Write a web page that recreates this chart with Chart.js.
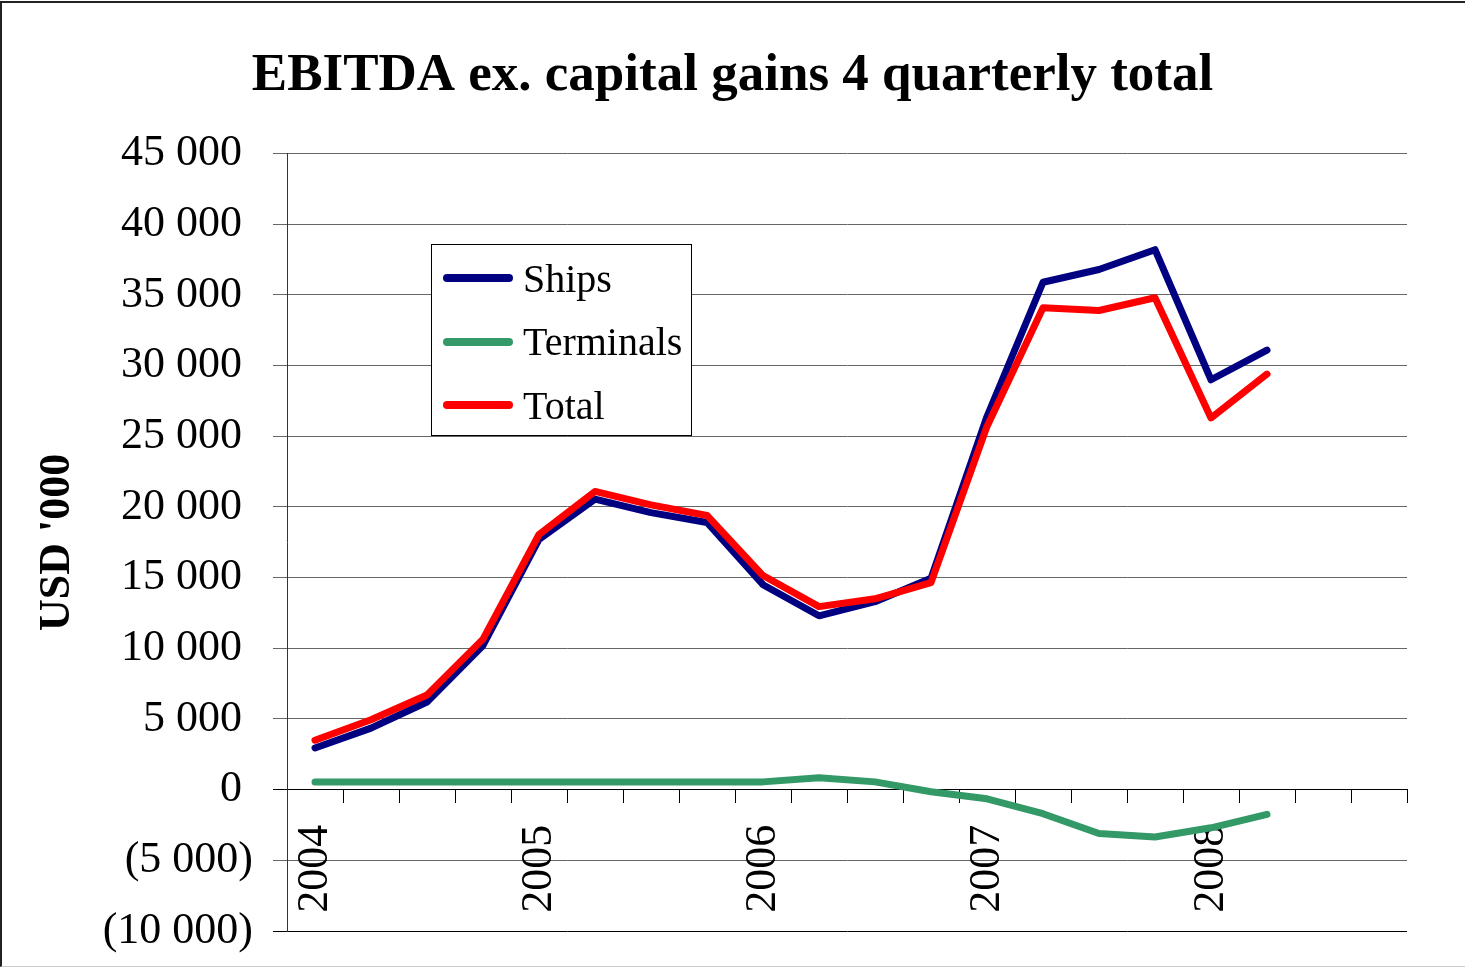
<!DOCTYPE html>
<html>
<head>
<meta charset="utf-8">
<script src="https://cdn.jsdelivr.net/npm/chart.js@4.4.1/dist/chart.umd.min.js"></script>
<style>
  html, body { margin: 0; padding: 0; background: #fff; }
  #wrap { position: relative; width: 1465px; height: 970px; overflow: hidden; }
  #chart { position: absolute; left: 0; top: 0; }
  #frame {
    position: absolute; left: 0; top: 1px; width: 1465px; height: 966px;
    border-left: 2px solid #222; border-top: 2px solid #222; border-bottom: 1px solid #ccc;
    pointer-events: none; box-sizing: border-box;
  }
  #legend {
    position: absolute; left: 431px; top: 244px; width: 261px; height: 192px;
    box-sizing: border-box; border: 1px solid #000; background: #fff;
    font-family: "Liberation Serif", "Times New Roman", serif; font-size: 40px; color: #000;
  }
  .row { position: absolute; left: 0; height: 64px; display: flex; align-items: center; }
  .swatch { margin-left: 11px; width: 70px; height: 8px; border-radius: 4px; }
  .label { margin-left: 10px; white-space: nowrap; }
</style>
</head>
<body>
<div id="wrap">
  <canvas id="chart" width="1465" height="970"></canvas>
  <div id="legend"></div>
  <div id="frame"></div>
</div>
<script>
// quarters, a year label every 4th slot
const quarterLabels = ['2004', '', '', '', '2005', '', '', '', '2006', '', '', '',
                       '2007', '', '', '', '2008', '', '', ''];

// USD '000, 4 quarter rolling totals
const ships = [2950, 4350, 6200, 10200, 17700, 20550, 19600, 18900, 14500, 12300,
               13300, 14950, 26400, 35900, 36800, 38200, 29000, 31100];
const terminals = [550, 550, 550, 550, 550, 550, 550, 550, 550, 850,
                   550, -150, -650, -1700, -3100, -3350, -2700, -1750];
const total = [3500, 4950, 6700, 10650, 18050, 21100, 20150, 19400, 15150, 12950,
               13500, 14650, 25700, 34100, 33900, 34800, 26300, 29400];

const SERIF = '"Liberation Serif", "Times New Roman", serif';
Chart.defaults.font.family = SERIF;
Chart.defaults.color = '#000';

function fmtThousands(v) {
    return String(v).replace(/\B(?=(\d{3})+(?!\d))/g, ' ');
}

function lineSet(label, data, color, order) {
    return {
        label: label,
        data: data,
        borderColor: color,
        backgroundColor: color,
        borderWidth: 7,
        pointRadius: 0,
        tension: 0,
        borderCapStyle: 'round',
        borderJoinStyle: 'round',
        order: order
    };
}

const ctx = document.getElementById('chart');
const chart = new Chart(ctx, {
    type: 'line',
    data: {
        labels: quarterLabels,
        datasets: [
            lineSet('Ships', ships, '#000080', 1),
            lineSet('Terminals', terminals, '#339966', 2),
            lineSet('Total', total, '#ff0000', 0)
        ]
    },
    options: {
        responsive: false,
        animation: false,
        layout: { padding: { left: 0, top: 0, right: 0, bottom: 39 } },
        plugins: {
            legend: { display: false },
            tooltip: { enabled: false },
            title: {
                display: true,
                text: 'EBITDA ex. capital gains 4 quarterly total',
                font: { family: SERIF, size: 53, weight: 'bold', lineHeight: 1.2 },
                color: '#000',
                padding: { top: 45, bottom: 45 }
            }
        },
        scales: {
            x: {
                type: 'category',
                position: { y: 0 },
                offset: true,
                grid: {
                    offset: true,
                    drawOnChartArea: false,
                    drawTicks: true,
                    tickLength: 13,
                    color: '#000'
                },
                border: { display: true, color: '#000', width: 1 },
                ticks: {
                    autoSkip: false,
                    minRotation: 90,
                    maxRotation: 90,
                    padding: 22,
                    font: { family: SERIF, size: 44 },
                    color: '#000'
                }
            },
            y: {
                min: -10000,
                max: 45000,
                afterFit: s => {
                    s.width = 287;
                    s.paddingTop = 0;
                    s.paddingBottom = 0;
                },
                ticks: {
                    stepSize: 5000,
                    padding: 20,
                    font: { family: SERIF, size: 44 },
                    color: '#000',
                    callback: v => v < 0 ? '(' + fmtThousands(-v) + ')' : fmtThousands(v) + ' '
                },
                grid: {
                    drawTicks: true,
                    tickLength: 14,
                    color: c => (c.tick && (c.tick.value === 0 || c.tick.value === -10000)) ? '#000' : '#666',
                    lineWidth: 1
                },
                border: { display: true, color: '#333', width: 1 },
                title: {
                    display: true,
                    text: "USD '000",
                    font: { family: SERIF, size: 44, weight: 'bold', lineHeight: 1.2 },
                    color: '#000',
                    padding: { top: 31, bottom: 0 }
                }
            },
            // empty right-hand axis that only keeps the margin right of the plot
            yRight: {
                position: 'right',
                min: -10000,
                max: 45000,
                afterFit: s => { s.width = 58; },
                ticks: { display: false },
                grid: { display: false, drawOnChartArea: false },
                border: { display: false }
            }
        }
    }
});

// legend box drawn over the plot, built from the datasets
const legendEl = document.getElementById('legend');
chart.data.datasets.forEach((ds, i) => {
    const row = document.createElement('div');
    row.className = 'row';
    row.style.top = (1 + i * 63.5) + 'px';
    const sw = document.createElement('div');
    sw.className = 'swatch';
    sw.style.background = ds.borderColor;
    const lb = document.createElement('span');
    lb.className = 'label';
    lb.textContent = ds.label;
    row.appendChild(sw);
    row.appendChild(lb);
    legendEl.appendChild(row);
});
</script>
</body>
</html>
